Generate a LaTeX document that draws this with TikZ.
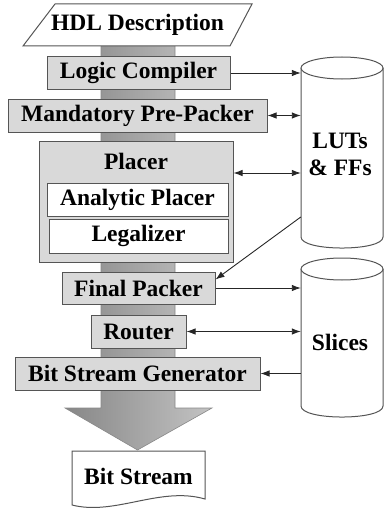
\documentclass[tikz,border=0pt]{standalone}
\usepackage{fontspec}
\setmainfont{Liberation Serif}[BoldFont={Liberation Serif Bold}]
\newfontfamily\tnr{Liberation Serif}[BoldFont={Liberation Serif Bold}]
\usetikzlibrary{arrows.meta}
\definecolor{boxfill}{RGB}{217,217,217}
\definecolor{boxline}{RGB}{85,85,85}
\definecolor{shaftdark}{RGB}{135,135,135}
\definecolor{shaftlight}{RGB}{195,195,195}
\begin{document}
\begin{tikzpicture}[x=1pt,y=-1pt,
  lbl/.style={font=\tnr\fontsize{23.5}{28}\selectfont\bfseries, text=black, align=center},
  stage/.style={draw=boxline, line width=1pt, fill=boxfill, inner sep=0pt, lbl},
  innerbox/.style={stage, fill=white},
  frame/.style={draw=boxline, line width=1pt},
  conn/.style={draw=black!85, line width=0.9pt},
  onetip/.style={-{Latex[length=9pt,width=6.5pt]}},
  twotip/.style={{Latex[length=9pt,width=6.5pt]}-{Latex[length=9pt,width=6.5pt]}},
]
\useasboundingbox (0,0) rectangle (384,511);

% flow shaft with arrow head
\path[left color=shaftdark, right color=shaftlight, draw=boxline!70, line width=0.6pt]
  (101,45) -- (175,45) -- (175,408) -- (212,408) -- (137.5,450) -- (65,408) -- (101,408) -- cycle;

% HDL description (parallelogram)
\path[frame, fill=white] (55,4) -- (252,4) -- (230,46) -- (23,46) -- cycle;
\node[lbl] (hdl) at (137.5,25) {HDL Description};

% stages
\node[stage, minimum width=183pt, minimum height=32pt] (lc) at (138.5,73) {Logic Compiler};
\node[stage, minimum width=259pt, minimum height=33pt] (mpp) at (137.5,115.5) {Mandatory Pre-Packer};
\node[stage, minimum width=194pt, minimum height=121pt] (placer) at (136,201.5) {};
\node[lbl] (placerlbl) at (136,161) {Placer};
\node[innerbox, minimum width=181pt, minimum height=33pt] (ap) at (137.5,199.5) {Analytic Placer};
\node[innerbox, minimum width=179pt, minimum height=34pt] (leg) at (138.5,236) {Legalizer};
\node[stage, minimum width=153pt, minimum height=32pt] (fp) at (138.5,288) {Final Packer};
\node[stage, minimum width=95pt, minimum height=33pt] (router) at (138.5,331.5) {Router};
\node[stage, minimum width=245pt, minimum height=33pt] (bsg) at (137.5,373.5) {Bit Stream Generator};

% Bit stream document
\path[frame, fill=white] (72,451) -- (205,451) -- (205,499)
  .. controls (160,486) and (115,516) .. (72,505) -- cycle;
\node[lbl] (bs) at (138.5,476) {Bit Stream};

% cylinders
\node[minimum width=82pt, minimum height=191pt, inner sep=0pt] (cylA) at (342,152.5) {};
\path[frame, fill=white] (301,68) -- (301,237) .. controls (301,251.7) and (383,251.7) .. (383,237) -- (383,68);
\path[frame, fill=white] (342,68) ellipse [x radius=41, y radius=11];
\node[lbl] (cylAlbl) at (340,154) {LUTs\\[-1pt]\& FFs};

\node[minimum width=82pt, minimum height=159pt, inner sep=0pt] (cylB) at (342,337.5) {};
\path[frame, fill=white] (301,269) -- (301,406) .. controls (301,420.7) and (383,420.7) .. (383,406) -- (383,269);
\path[frame, fill=white] (342,269) ellipse [x radius=41, y radius=11];
\node[lbl] (cylBlbl) at (340,342) {Slices};

% connectors
\draw[conn, onetip] (lc.east) -- (lc.east -| cylA.west);
\draw[conn, twotip] (mpp.east) -- (mpp.east -| cylA.west);
\draw[conn, twotip] ([yshift=28.5pt]placer.east) -- ([yshift=28.5pt]placer.east -| cylA.west);
\draw[conn, onetip] ([yshift=-64.5pt]cylA.west) -- ([yshift=-8pt]fp.north east);
\draw[conn, onetip] (fp.east) -- (fp.east -| cylB.west);
\draw[conn, twotip] (router.east) -- (router.east -| cylB.west);
\draw[conn, onetip] (bsg.east -| cylB.west) -- (bsg.east);
\end{tikzpicture}
\end{document}
